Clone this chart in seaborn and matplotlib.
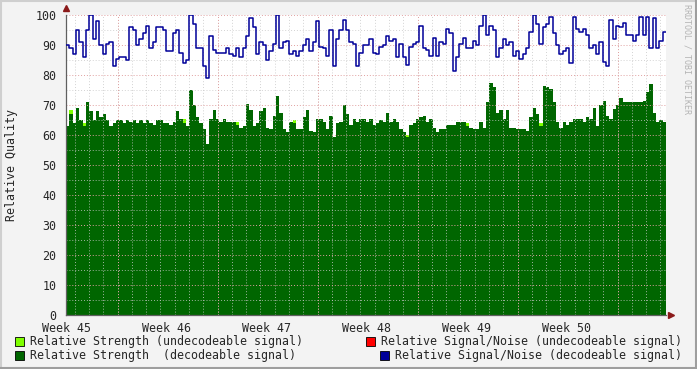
import numpy as np
import matplotlib
matplotlib.use("Agg")
import matplotlib.pyplot as plt
import seaborn as sns
from matplotlib.patches import Rectangle

# -------------------------------------------------------------------
# Data (~30 samples per week)
# -------------------------------------------------------------------

week_labels = ["Week 45", "Week 46", "Week 47", "Week 48", "Week 49", "Week 50"]

# relative signal/noise (decodeable signal)
snr_w45 = [90, 89, 87, 95, 91, 86, 95, 100, 92, 98, 90, 87, 90.5, 91, 83, 85.5, 86, 86, 85, 96,
           95, 90, 92, 94, 96.5, 89, 91, 96, 96, 95]
snr_w46 = [88, 88, 94, 95, 87.5, 84, 85, 100, 97, 89, 89, 83, 79, 93, 88.5, 87.5, 87.5, 87.5, 89, 87,
           86.5, 89, 86, 89, 93, 99, 96, 87, 91, 90]
snr_w47 = [85, 88, 90.5, 100, 89, 91, 91.5, 87, 88, 86.5, 88, 90, 92, 88, 91, 98, 89.5, 89, 86.5, 95,
           83, 92, 95, 98.5, 95, 91, 90.5, 83, 87.5, 90]
snr_w48 = [90, 92, 87.5, 87, 89.5, 90, 93, 91.5, 92, 86, 90.5, 86, 83.5, 89.5, 90.5, 91, 96.5, 89, 88.5, 86.5,
           92.5, 86.5, 91, 90.5, 95.5, 94, 81.5, 86, 90.5, 92.5]
snr_w49 = [89, 89, 91.5, 90, 96.5, 100, 93.5, 96.5, 95, 86, 89, 92, 90, 91, 86.5, 88, 85.5, 87, 89, 94.5,
           100, 97, 90.5, 96, 97, 99.5, 94, 90, 87, 88]
snr_w50 = [89, 84, 99.5, 95.5, 94.5, 95.5, 93.5, 89, 90, 87, 91, 84.5, 83, 98.5, 92, 96.5, 96, 97.5, 93.5, 93.5,
           91.5, 93.5, 99.5, 93.5, 99.5, 89, 99, 89, 91.5, 94.5]

# relative strength (decodeable signal)
str_w45 = [63, 67, 64, 69, 65, 63, 71, 68, 65, 68, 66, 67, 65, 63, 64, 65, 65, 64, 65, 64.5,
           65, 64, 65, 64, 65, 64, 63.5, 65, 65, 64]
str_w46 = [64, 63.5, 64.5, 68, 65.5, 64, 63, 75, 70, 66, 64, 62, 57, 65.5, 68.5, 65.5, 64.5, 65.5, 64.5, 64.5,
           64.5, 63.5, 62.5, 63, 70.5, 68.5, 63, 64, 68, 69]
str_w47 = [62.5, 62, 66.5, 73, 67.5, 62, 61, 64.5, 64, 62, 62, 66, 68.5, 61.5, 61, 65.5, 65.5, 64.5, 62, 66.5,
           59.5, 64, 64.5, 70, 67, 63.5, 65.5, 64.5, 65.5, 65.5]
str_w48 = [64.5, 65.5, 63.5, 64, 65, 64.5, 67.5, 64.5, 65.5, 64.5, 62, 61, 59.5, 63.5, 64, 65.5, 66, 66.5, 64.5, 65.5,
           62.5, 61, 62, 62, 63.5, 63.5, 63.5, 64.5, 64.5, 64.5]
str_w49 = [63, 62.5, 62, 62, 64.5, 62.5, 71, 77.5, 76, 67.5, 68.5, 65.5, 68.5, 62.5, 62.5, 62, 62, 62, 61.5, 66,
           69, 67, 63, 76.5, 76, 75.5, 71, 64.5, 62.5, 64.5]
str_w50 = [63.5, 64.5, 65.5, 65.5, 65.5, 64.5, 66, 65.5, 69, 63, 70, 71.5, 66.5, 65.5, 68.8, 70, 72.5, 71, 71, 71,
           71, 71, 71, 71.5, 74.5, 77, 67.5, 64.5, 65, 64.5]

# relative strength (undecodeable signal): small extra slivers on top
undec_idx = [1, 5, 35, 51, 68, 102, 120, 142]
undec_extra = [1.5, 1.0, 1.2, 0.8, 1.0, 0.5, 1.0, 1.0]

# -------------------------------------------------------------------
# Prepare series
# -------------------------------------------------------------------

snr = np.array(snr_w45 + snr_w46 + snr_w47 + snr_w48 + snr_w49 + snr_w50)
strength = np.array(str_w45 + str_w46 + str_w47 + str_w48 + str_w49 + str_w50)
undec = strength.copy()
undec[undec_idx] += undec_extra

n = len(snr)
days = np.arange(n + 1) * 42.0 / n
snr_e = np.r_[snr, snr[-1]]
str_e = np.r_[strength, strength[-1]]
undec_e = np.r_[undec, undec[-1]]

# -------------------------------------------------------------------
# Figure
# -------------------------------------------------------------------

sns.set_style("white")
plt.rcParams['font.family'] = ['DejaVu Sans Mono']

W, H = 697, 369
fig = plt.figure(figsize=(W / 100, H / 100), dpi=100, facecolor='#F3F3F3')


def fx(px):
    return px / W


def fy(py):
    return 1 - py / H


ax = fig.add_axes([fx(66), fy(315), 600 / W, 300 / H])
ax.set_facecolor('white')

ax.fill_between(days, undec_e, step='post', color='#7FFF00', lw=0, zorder=1)
ax.fill_between(days, str_e, step='post', color='#006600', lw=0, zorder=1.5)
sns.lineplot(x=days, y=snr_e, drawstyle='steps-post', color='#000099', lw=1.1,
             estimator=None, ax=ax, zorder=4)

# grid
grid_dots = (0, (1, 2))
minor_x = np.arange(0.61, 42, 1.0)
major_x = np.arange(3.61, 42, 7.0)
ax.vlines(minor_x, 0, 100, colors='#C8C8C8', linestyles=grid_dots, lw=0.7, alpha=0.8, zorder=2)
ax.vlines(major_x, 0, 100, colors='#E0A0A0', linestyles=grid_dots, lw=0.7, zorder=2.1)
ax.hlines(np.arange(5, 100, 10), 0, 42, colors='#C8C8C8', linestyles=grid_dots, lw=0.7, alpha=0.8, zorder=2)
ax.hlines(np.arange(10, 101, 10), 0, 42, colors='#E0A0A0', linestyles=grid_dots, lw=0.7, zorder=2.1)

ax.set_xlim(0, 42)
ax.set_ylim(0, 100)
ax.set_xticks(np.arange(0, 42, 7))
ax.set_xticklabels(week_labels, fontsize=8.4)
ax.set_xticks(major_x, minor=True)
ax.set_yticks(np.arange(0, 101, 10))
ax.set_yticklabels([str(v) for v in range(0, 101, 10)], fontsize=8.4)
ax.tick_params(axis='x', which='major', length=0, pad=5)
ax.tick_params(axis='x', which='minor', length=3, color='#D08080', direction='out')
ax.tick_params(axis='y', length=3, color='#D08080', pad=4)
ax.set_xlabel('')
ax.set_ylabel('')

for side in ['top', 'right']:
    ax.spines[side].set_visible(False)
for side in ['left', 'bottom']:
    ax.spines[side].set_color('#606060')
    ax.spines[side].set_linewidth(0.9)

# axis arrows
ax.plot([0], [102.3], marker='^', color='#8B1A1A', markersize=4.5, clip_on=False, zorder=6)
ax.plot([42.35], [0], marker='>', color='#8B1A1A', markersize=4.5, clip_on=False, zorder=6)

fig.text(fx(12), fy(165), 'Relative Quality', rotation=90, ha='center', va='center', fontsize=8.4)
fig.text(fx(687), fy(4), 'RRDTOOL / TOBI OETIKER', rotation=270, ha='center', va='top',
         fontsize=6, color='#B4B4B4')

# legend
legend_items = [
    (15, 341, '#7FFF00', 'Relative Strength (undecodeable signal)'),
    (15, 355, '#006600', 'Relative Strength  (decodeable signal)'),
    (366, 341, '#FF0000', 'Relative Signal/Noise (undecodeable signal)'),
    (380, 355, '#000099', 'Relative Signal/Noise (decodeable signal)'),
]
for lx, ly, col, label in legend_items:
    fig.patches.append(Rectangle((fx(lx), fy(ly + 4.5)), 8.5 / W, 8.5 / H, transform=fig.transFigure,
                                 facecolor=col, edgecolor='black', lw=0.6))
    fig.text(fx(lx + 15), fy(ly), label, ha='left', va='center', fontsize=8.4)

# frame
fig.add_artist(plt.Line2D([0, 1], [fy(1), fy(1)], transform=fig.transFigure, color='#CFCFCF', lw=1.5))
fig.add_artist(plt.Line2D([fx(1), fx(1)], [0, 1], transform=fig.transFigure, color='#CFCFCF', lw=1.5))
fig.add_artist(plt.Line2D([0, 1], [fy(368), fy(368)], transform=fig.transFigure, color='#9E9E9E', lw=1.5))
fig.add_artist(plt.Line2D([fx(696), fx(696)], [0, 1], transform=fig.transFigure, color='#9E9E9E', lw=1.5))

fig.savefig('out.png', dpi=100, facecolor=fig.get_facecolor())
